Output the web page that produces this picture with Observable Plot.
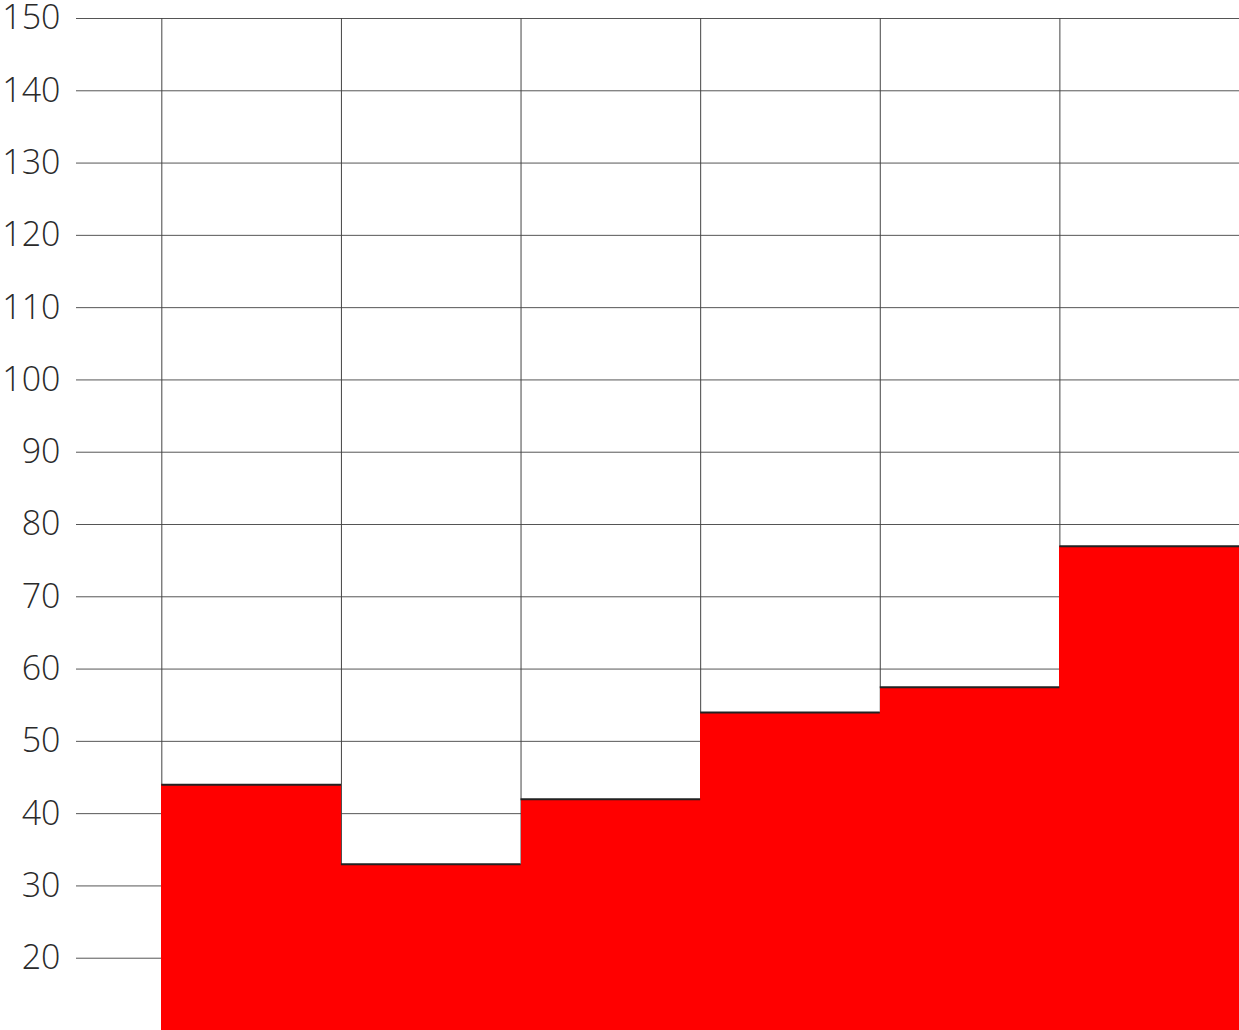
<!DOCTYPE html>
<html>
<head>
<meta charset="utf-8">
<script src="https://cdn.jsdelivr.net/npm/d3@7"></script>
<script src="https://cdn.jsdelivr.net/npm/@observablehq/plot@0.6"></script>
<style>
  html, body { margin: 0; padding: 0; background: #fff; }
  #chart svg { display: block; }
</style>
</head>
<body>
<div id="chart"></div>
<script>
const categories = ["1", "2", "3", "4", "5", "6"];
const values = [44, 33, 42, 54, 57.5, 77];
const yTicks = [20, 30, 40, 50, 60, 70, 80, 90, 100, 110, 120, 130, 140, 150];

const data = categories.map((c, i) => ({ cat: c, i, value: values[i] }));
const edges = d3.range(0, categories.length + 1);

const chart = Plot.plot({
  width: 1239,
  height: 1030,
  marginLeft: 76,
  marginRight: 0,
  marginTop: 18,
  marginBottom: 0,
  style: { fontFamily: "'Open Sans', 'Noto Sans', sans-serif", fontSize: "34px", color: "#2a2a2a", background: "#fff" },
  x: { domain: [-0.475, categories.length], axis: null },
  y: { domain: [10, 150], axis: null },
  marks: [
    Plot.ruleY(yTicks, { stroke: "#555", strokeWidth: 1 }),
    Plot.ruleX(edges, { y1: 10, y2: 150, stroke: "#444", strokeWidth: 1 }),
    Plot.rectY(data, { x1: "i", x2: d => d.i + 1, y1: 10, y2: "value", fill: "#ff0000", shapeRendering: "crispEdges" }),
    Plot.ruleY(data, { y: "value", x1: "i", x2: d => d.i + 1, stroke: "#222", strokeWidth: 2 }),
    Plot.axisY(yTicks, { tickSize: 0, tickPadding: 16, fontSize: 34, fontWeight: 300, fill: "#2a2a2a", label: null })
  ]
});
document.getElementById("chart").appendChild(chart);
</script>
</body>
</html>
